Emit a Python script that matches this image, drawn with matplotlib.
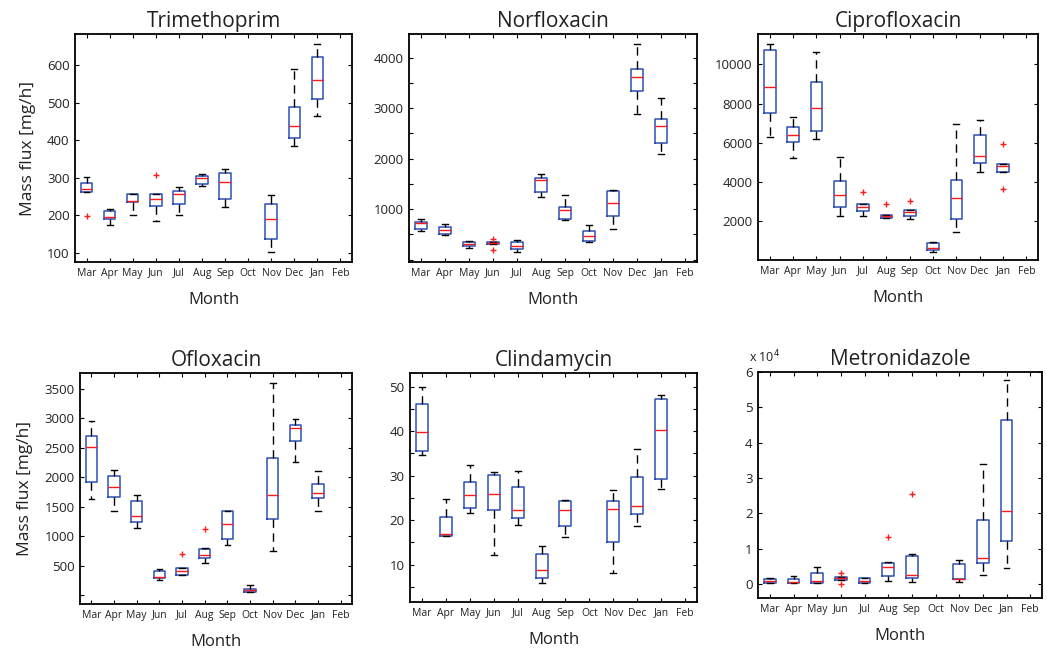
"""Monthly mass flux boxplots for six antibiotics."""
import numpy as np
from matplotlib import pyplot as plt

plt.rcParams['font.family'] = ['Open Sans', 'DejaVu Sans']
plt.rcParams['text.color'] = '#222222'
plt.rcParams['axes.labelcolor'] = '#222222'
plt.rcParams['xtick.labelcolor'] = '#222222'
plt.rcParams['ytick.labelcolor'] = '#222222'

months = ['Mar', 'Apr', 'May', 'Jun', 'Jul', 'Aug', 'Sep', 'Oct', 'Nov', 'Dec', 'Jan', 'Feb']
nan = np.nan

# Trimethoprim [mg/h]
tri_lo = [262, 175, 201, 184, 202, 279, 223, nan, 102, 386, 464, nan]
tri_q1 = [262, 191, 235, 226, 230, 284, 244, nan, 136, 405, 509, nan]
tri_med = [271, 195, 238, 245, 258, 299, 290, nan, 190, 438, 560, nan]
tri_q3 = [287, 211, 258, 257, 264, 304, 312, nan, 231, 489, 622, nan]
tri_hi = [303, 218, 258, 257, 277, 311, 324, nan, 255, 590, 657, nan]
tri_out = {0: [198], 3: [307]}

# Norfloxacin
nor_lo = [558, 486, 229, 308, 149, 1244, 776, 347, 604, 2886, 2094, nan]
nor_q1 = [604, 505, 275, 308, 202, 1349, 802, 360, 862, 3341, 2305, nan]
nor_med = [730, 578, 308, 327, 275, 1580, 980, 459, 1112, 3624, 2648, nan]
nor_q3 = [749, 637, 341, 347, 354, 1626, 1040, 571, 1356, 3769, 2787, nan]
nor_hi = [796, 697, 360, 347, 387, 1686, 1277, 690, 1369, 4264, 3209, nan]
nor_out = {3: [407, 196]}

# Ciprofloxacin
cip_lo = [6289, 5217, 6170, 2272, 2255, 2153, 2102, 417, 1455, 4485, 4519, nan]
cip_q1 = [7532, 6017, 6579, 2698, 2494, 2153, 2255, 519, 2085, 4945, 4519, nan]
cip_med = [8826, 6374, 7787, 3345, 2715, 2238, 2460, 604, 3157, 5319, 4809, nan]
cip_q3 = [10732, 6817, 9081, 4026, 2885, 2323, 2545, 860, 4111, 6391, 4928, nan]
cip_hi = [11021, 7328, 10647, 5268, 2885, 2323, 2545, 945, 6936, 7140, 4928, nan]
cip_out = {4: [3498], 5: [2851], 6: [3021], 10: [5915, 3617]}

# Ofloxacin
ofl_lo = [1625, 1433, 1144, 260, 340, 538, 849, 51, 753, 2254, 1433, nan]
ofl_q1 = [1920, 1665, 1234, 283, 340, 634, 957, 57, 1297, 2622, 1653, nan]
ofl_med = [2508, 1835, 1348, 306, 413, 685, 1206, 91, 1693, 2837, 1733, nan]
ofl_q3 = [2695, 2022, 1591, 402, 459, 776, 1421, 108, 2322, 2894, 1880, nan]
ofl_hi = [2962, 2129, 1693, 447, 459, 793, 1421, 164, 3607, 2990, 2101, nan]
ofl_out = {4: [702], 5: [1115]}

# Clindamycin
cli_lo = [34.7, 16.4, 21.6, 12.2, 19.0, 5.8, 16.2, nan, 8.2, 18.7, 27.0, nan]
cli_q1 = [35.5, 16.5, 22.7, 22.2, 20.5, 7.1, 18.7, nan, 15.0, 21.4, 29.3, nan]
cli_med = [39.8, 17.0, 25.6, 26.0, 22.3, 8.9, 22.2, nan, 22.6, 23.1, 40.2, nan]
cli_q3 = [46.2, 20.7, 28.5, 30.2, 27.4, 12.3, 24.3, nan, 24.4, 29.8, 47.2, nan]
cli_hi = [50.0, 24.8, 32.3, 30.9, 31.1, 14.1, 24.5, nan, 26.9, 35.9, 48.2, nan]
cli_out = {}

# Metronidazole
met_lo = [280, 280, 280, 1306, 466, 840, 653, nan, 653, 2519, 4571, nan]
met_q1 = [373, 373, 373, 1306, 466, 2332, 1680, nan, 1399, 6063, 12313, nan]
met_med = [840, 653, 1026, 1772, 1026, 4944, 2705, nan, 1493, 7463, 20802, nan]
met_q3 = [1493, 1586, 3172, 2052, 1680, 5970, 7836, nan, 5690, 18284, 46455, nan]
met_hi = [1680, 2332, 4757, 2052, 1680, 6250, 8582, nan, 6810, 33862, 57742, nan]
met_out = {3: [3078, 93], 5: [13433], 6: [25560]}

W, H = 1047, 652
fig = plt.figure(figsize=(W / 100, H / 100), dpi=100)


def make_ax(x0, y0, x1, y1):
    return fig.add_axes([x0 / W, 1 - y1 / H, (x1 - x0) / W, (y1 - y0) / H])


def draw(ax, lo, q1, med, q3, hi, out):
    stats, pos = [], []
    for i in range(12):
        if np.isnan(med[i]):
            continue
        stats.append(dict(whislo=lo[i], q1=q1[i], med=med[i], q3=q3[i], whishi=hi[i],
                          fliers=out.get(i, [])))
        pos.append(i + 1)
    ax.bxp(stats, positions=pos, widths=0.5, capwidths=0.25,
           boxprops=dict(color='#2b4fb5', lw=1.1),
           medianprops=dict(color='#ff1a1a', lw=1.0),
           whiskerprops=dict(color='black', lw=1.0, ls=(0, (6, 4))),
           capprops=dict(color='black', lw=1.0),
           flierprops=dict(marker='+', markeredgecolor='#ff1a1a', markersize=5, mew=1.0))
    ax.set_xlim(0.5, 12.5)
    ax.set_xticks(range(1, 13))
    ax.set_xticklabels(months, fontsize=7.5)
    ax.tick_params(direction='in', top=True, right=True, length=3, width=0.8,
                   labelsize=9.5, pad=4)
    ax.tick_params(axis='x', labelsize=7.5, pad=4)
    for s in ax.spines.values():
        s.set_linewidth(1.3)
    ax.set_xlabel('Month', fontsize=12, labelpad=10)


def set_yticks(ax, ticks, labelled):
    ax.set_yticks(ticks)
    ax.set_yticklabels([str(t) if t in labelled else '' for t in ticks])


ax1 = make_ax(75, 34, 352, 262)
draw(ax1, tri_lo, tri_q1, tri_med, tri_q3, tri_hi, tri_out)
ax1.set_ylim(76, 683)
set_yticks(ax1, [100, 200, 300, 400, 500, 600], [100, 200, 300, 400, 500, 600])
ax1.set_title('Trimethoprim', fontsize=15, pad=5)
ax1.set_ylabel('Mass flux [mg/h]', fontsize=12.5, labelpad=8)

ax2 = make_ax(409, 34, 697, 262)
draw(ax2, nor_lo, nor_q1, nor_med, nor_q3, nor_hi, nor_out)
ax2.set_ylim(-48, 4470)
set_yticks(ax2, list(range(0, 4001, 500)), [1000, 2000, 3000, 4000])
ax2.set_title('Norfloxacin', fontsize=15, pad=5)

ax3 = make_ax(758, 34, 1038, 260)
draw(ax3, cip_lo, cip_q1, cip_med, cip_q3, cip_hi, cip_out)
ax3.set_ylim(10, 11550)
set_yticks(ax3, [2000, 4000, 6000, 8000, 10000], [2000, 4000, 6000, 8000, 10000])
ax3.set_title('Ciprofloxacin', fontsize=15, pad=5)

ax4 = make_ax(80, 373, 352, 604)
draw(ax4, ofl_lo, ofl_q1, ofl_med, ofl_q3, ofl_hi, ofl_out)
ax4.set_ylim(-150, 3770)
set_yticks(ax4, list(range(0, 3501, 500)), list(range(500, 3501, 500)))
ax4.set_title('Ofloxacin', fontsize=15, pad=5)
ax4.set_ylabel('Mass flux [mg/h]', fontsize=12.5, labelpad=8)

ax5 = make_ax(410, 373, 697, 602)
draw(ax5, cli_lo, cli_q1, cli_med, cli_q3, cli_hi, cli_out)
ax5.set_ylim(1.6, 53.1)
set_yticks(ax5, list(range(5, 51, 5)), [10, 20, 30, 40, 50])
ax5.set_title('Clindamycin', fontsize=15, pad=5)

ax6 = make_ax(758, 372, 1042, 598)
draw(ax6, met_lo, met_q1, met_med, met_q3, met_hi, met_out)
ax6.set_ylim(-3900, 60000)
ax6.set_yticks([0, 10000, 20000, 30000, 40000, 50000, 60000])
ax6.set_yticklabels(['0', '1', '2', '3', '4', '5', '6'])
ax6.set_title('Metronidazole', fontsize=15, pad=5)
ax6.text(-0.03, 1.03, r'x 10$^4$', transform=ax6.transAxes, fontsize=9, ha='left', va='bottom')

fig.savefig('out.png', dpi=100)
